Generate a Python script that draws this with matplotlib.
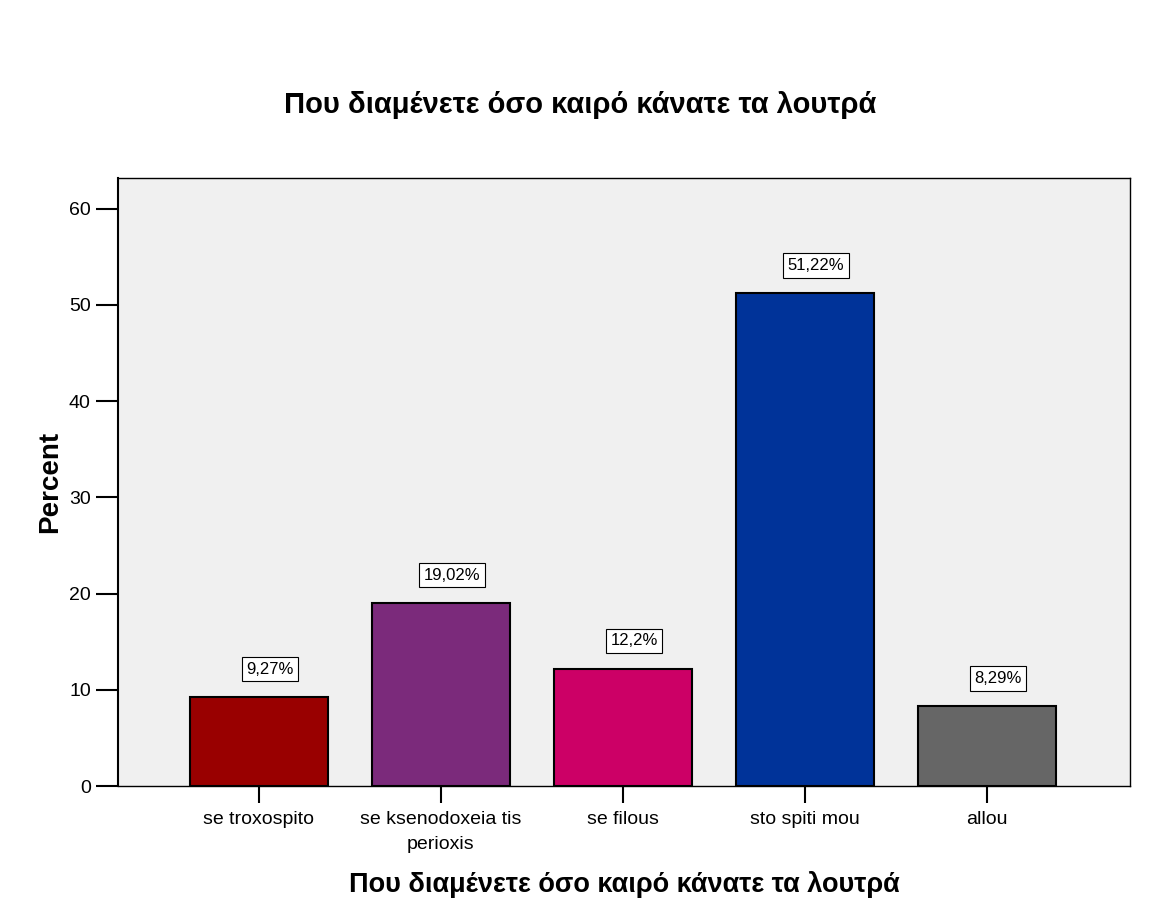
import matplotlib
matplotlib.use("Agg")
import matplotlib.pyplot as plt

plt.rcParams["font.family"] = ["Liberation Sans", "DejaVu Sans"]

categories = ["se troxospito", "se ksenodoxeia tis\nperioxis", "se filous",
              "sto spiti mou", "allou"]
percent = [9.27, 19.02, 12.2, 51.22, 8.29]
value_labels = ["9,27%", "19,02%", "12,2%", "51,22%", "8,29%"]
colors = ["#990000", "#7b2a7b", "#cc0066", "#003399", "#666666"]
title = "Που διαμένετε όσο καιρό κάνατε τα λουτρά"

fig = plt.figure(figsize=(11.53, 9.22), dpi=100)
ax = fig.add_axes([0.1023, 0.1475, 0.8777, 0.6595])
ax.set_facecolor("#f0f0f0")

x = list(range(len(categories)))
ax.bar(x, percent, width=0.76, color=colors, edgecolor="black", linewidth=1.5)

for xi, v, lab in zip(x, percent, value_labels):
    ax.annotate(lab, (xi, v), xytext=(8, 20), textcoords="offset points",
                ha="center", va="center", fontsize=12,
                bbox=dict(boxstyle="square,pad=0.28", fc="white", ec="black", lw=0.8))

ax.set_xlim(-0.775, 4.786)
ax.set_ylim(0, 63.2)
ax.set_yticks([0, 10, 20, 30, 40, 50, 60])
ax.set_xticks(x)
ax.set_xticklabels(categories, fontsize=14, linespacing=1.6)
ax.tick_params(axis="y", labelsize=14, length=16, width=1.5, direction="out")
ax.tick_params(axis="x", length=12, width=1.5, direction="out", pad=6)
for s in ax.spines.values():
    s.set_linewidth(1.0)
ax.spines["left"].set_linewidth(1.5)

ax.set_ylabel("Percent", fontsize=20, fontweight="bold", labelpad=4)
ax.set_xlabel(title, fontsize=19.5, fontweight="bold", labelpad=13)
fig.text(0.503, 0.886, title, ha="center", va="center", fontsize=21, fontweight="bold")

fig.savefig("out.png", dpi=100)
